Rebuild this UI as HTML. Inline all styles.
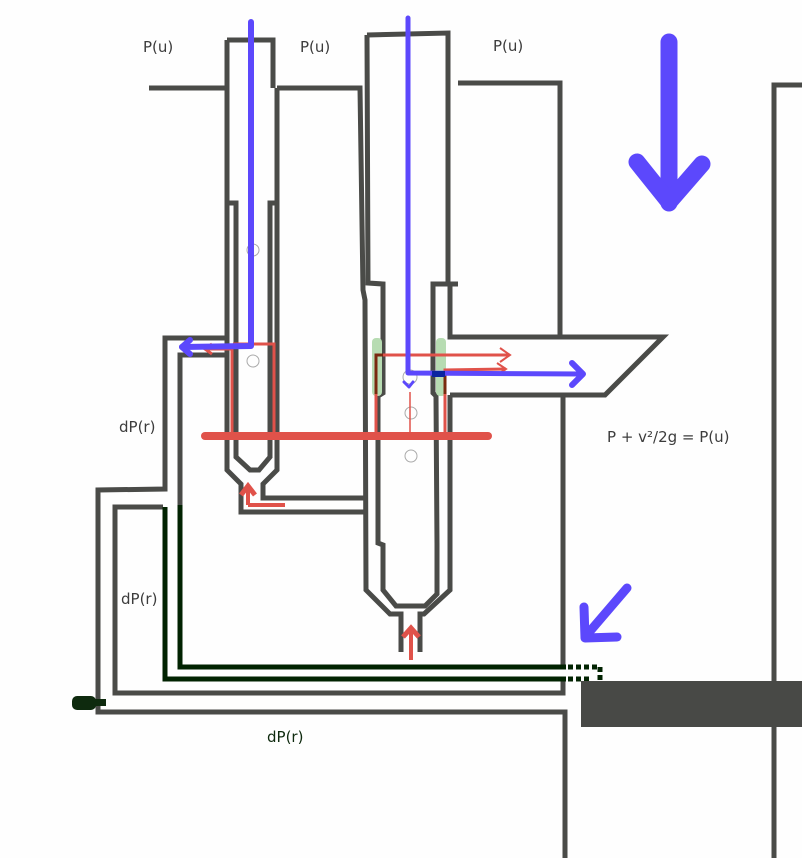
<!DOCTYPE html>
<html><head><meta charset="utf-8"><style>
html,body{margin:0;padding:0;background:#fff}
svg{display:block}
text{font-family:"DejaVu Sans","Liberation Sans",sans-serif;fill:#3c3c3c}
</style></head><body>
<svg width="802" height="858" viewBox="0 0 802 858" xmlns="http://www.w3.org/2000/svg">
<rect width="802" height="858" fill="#fefefe"/>
<g fill="none" stroke="#4a4b48" stroke-width="5" stroke-linejoin="miter">
<polyline points="149,88 227,88"/>
<polyline points="227,40 273,40 273,88"/>
<polyline points="227,40 227,470 241,484 241,512 368,512"/>
<polyline points="277,88 277,470 263,484 263,498 368,498"/>
<polyline points="227,203 236,203 236,457 250,470 259,470 270,457 270,203 277,203"/>
<polyline points="277,88 360,88 363,290 365,300 366,590 390,614 401,614 401,652"/>
<polyline points="367,35 448,33 448,283"/>
<polyline points="367,35 368,283 383,284 383,393 378,396 378,543 383,545 383,590 396,606 425,606 437,594 437,545 436,396 433,393 433,284 448,284 458,284"/>
<polyline points="458,83 560,83 560,337 450,337 450,286"/>
<polyline points="450,395 450,590 424,614 420,614 420,652"/>
<polyline points="560,337 663,337 605,395 450,395"/>
<polyline points="563,395 563,667"/>
<polyline points="802,85 774,85 774,858"/>
<polyline points="227,338 165,338 165,489 98,490 98,712 565,712 565,858"/>
<polyline points="227,355 180,355 180,506"/>
<polyline points="163,507 115,507 115,693 563,693 563,681"/>
</g>
<g fill="none" stroke="#012301" stroke-width="5">
<polyline points="180,505 180,667 566,667"/>
<polyline points="165,507 165,679 566,679"/>
<polyline points="568,667 600,667 600,684" stroke-dasharray="5,3"/>
<polyline points="568,679 590,679" stroke-dasharray="5,3"/>
</g>
<rect x="581" y="681" width="221" height="46" fill="#484946"/>
<rect x="72" y="696" width="24" height="14" rx="5" fill="#0e2a0e"/>
<rect x="92" y="699" width="14" height="7" fill="#0e2a0e"/>
<rect x="372" y="338" width="10" height="58" rx="4" fill="#b7dcb2"/>
<rect x="436" y="338" width="10" height="58" rx="4" fill="#b7dcb2"/>
<g fill="none" stroke="#aaa" stroke-width="1">
<circle cx="253" cy="250" r="6"/><circle cx="253" cy="361" r="6"/>
<circle cx="410" cy="377" r="7"/><circle cx="411" cy="413" r="6"/><circle cx="411" cy="456" r="6"/>
</g>
<g fill="none" stroke="#e0524a" stroke-linecap="butt">
<line x1="205" y1="436" x2="488" y2="436" stroke-width="8" stroke-linecap="round"/>
<polyline points="232,436 232,349 205,349" stroke-width="3"/>
<polyline points="212,344 205,349 212,354" stroke-width="3"/>
<polyline points="233,344 274,344 274,436" stroke-width="3"/>
<polyline points="376,436 376,355 509,355" stroke-width="3"/>
<polyline points="500,348 510,355 500,362" stroke-width="2"/>
<polyline points="445,436 445,370 506,369" stroke-width="3"/>
<polyline points="497,363 506,369 497,375" stroke-width="2"/>
<line x1="410" y1="436" x2="410" y2="392" stroke-width="1.5"/>
<polyline points="248,505 285,505" stroke-width="4"/>
<polyline points="248,505 248,485" stroke-width="4"/>
<polyline points="241,495 248,486 255,495" stroke-width="5"/>
<line x1="411" y1="660" x2="411" y2="628" stroke-width="4"/>
<polyline points="403,637 411,628 419,637" stroke-width="5"/>
</g>
<g fill="none" stroke="#7a2a10" stroke-width="3">
<polyline points="376,394 376,355 383,355"/>
<polyline points="445,394 445,372"/>
</g>
<g fill="none" stroke="#5c48fc" stroke-linecap="round" stroke-linejoin="round">
<polyline points="251,22 251,346 182,347" stroke-width="6"/>
<polyline points="190,340 182,347 190,354" stroke-width="6"/>
<polyline points="408,18 408,373 583,374" stroke-width="5"/>
<polyline points="572,363 583,374 572,385" stroke-width="6"/>
<polyline points="404,382 409,387 413,382" stroke-width="3"/>
<line x1="669" y1="42" x2="669" y2="203" stroke-width="17"/>
<polyline points="637,162 669,202 702,164" stroke-width="17"/>
<line x1="627" y1="588" x2="585" y2="637" stroke-width="9"/>
<polyline points="584,607 585,638 617,637" stroke-width="9"/>
</g>
<line x1="432" y1="374" x2="445" y2="374" stroke="#0a24a0" stroke-width="6"/>
<g font-size="15">
<text x="143" y="52">P(u)</text>
<text x="300" y="52">P(u)</text>
<text x="493" y="51">P(u)</text>
<text x="119" y="432">dP(r)</text>
<text x="121" y="604">dP(r)</text>
<text x="267" y="742" style="fill:#0e2a0e">dP(r)</text>
<text x="607" y="442" font-size="15">P + v²/2g = P(u)</text>
</g>
</svg>
</body></html>
